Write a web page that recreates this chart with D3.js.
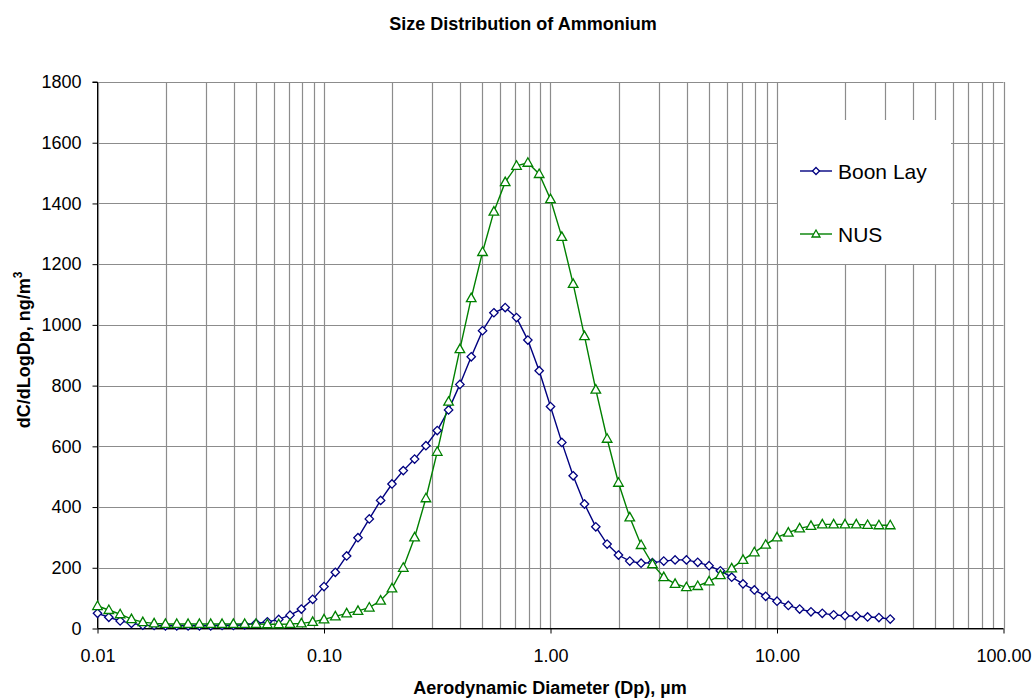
<!DOCTYPE html>
<html><head><meta charset="utf-8">
<script src="https://cdn.jsdelivr.net/npm/d3@7"></script>
<style>body{margin:0;background:#fff;} text{font-family:"Liberation Sans",Arial,sans-serif;}</style>
</head><body><svg id="c" width="1034" height="699"></svg>
<script>
const logStart = -2, logStep = 0.05;
const boonLay = [50,37,25,17,11,10,9,9,9,9,9,10,10,12,17,22,30,44,64,96,138,185,239,299,361,422,476,520,558,602,652,720,804,895,981,1040,1057,1024,950,849,731,613,503,410,335,278,242,222,215,217,222,226,226,218,207,190,169,147,127,106,90,76,64,55,50,45,42,41,38,36,31];
const nus = [74,61,47,31,21,17,15,15,15,15,15,15,15,15,15,14,14,15,17,22,30,40,50,58,69,92,132,200,300,429,582,747,920,1088,1240,1373,1470,1524,1534,1497,1414,1290,1135,963,787,625,480,366,275,212,169,147,136,140,155,176,198,226,251,276,300,316,330,338,343,343,343,343,341,340,340];
const diam = boonLay.map((_, i) => Math.pow(10, logStart + i * logStep));
const xTicks = [0.01, 0.1, 1, 10, 100];
const xTickLabels = ["0.01", "0.10", "1.00", "10.00", "100.00"];
const yTicks = [0,200,400,600,800,1000,1200,1400,1600,1800];
const seriesNames = ["Boon Lay", "NUS"];

const svg = d3.select("#c");
const L = 97.5, R = 1003.5, T = 82, B = 628.5;
const x = d3.scaleLog().domain([0.01, 100]).range([L, R]);
const y = d3.scaleLinear().domain([0, 1800]).range([B, T]);

// vertical grid at every minor log tick
const minor = [];
for (let e = -2; e <= 1; e++) for (let m = 1; m <= 9; m++) minor.push(m * Math.pow(10, e));
minor.push(100);
svg.append("g").selectAll("line").data(minor).join("line")
  .attr("x1", d => Math.round(x(d)) + 0.5).attr("x2", d => Math.round(x(d)) + 0.5)
  .attr("y1", T).attr("y2", B).attr("stroke", "#8c8c8c").attr("stroke-width", 1.2);
svg.append("g").selectAll("line").data(yTicks).join("line")
  .attr("x1", L).attr("x2", R)
  .attr("y1", d => Math.round(y(d)) + 0.5).attr("y2", d => Math.round(y(d)) + 0.5)
  .attr("stroke", "#8c8c8c").attr("stroke-width", 1.2);

// legend background (covers grid)
svg.append("rect").attr("x", 778).attr("y", 120).attr("width", 173).attr("height", 144).attr("fill", "#fff");

// axes
const yAxis = d3.axisLeft(y).tickValues(yTicks).tickSize(5).tickPadding(11).tickFormat(d3.format("d"));
const gy = svg.append("g").attr("transform", `translate(${L},0)`).call(yAxis);
gy.selectAll("text").attr("font-size", 18).attr("fill", "#000");
gy.selectAll("line,path").attr("stroke", "#000");
const xAxis = d3.axisBottom(x).tickValues(xTicks).tickSize(5).tickPadding(16).tickFormat((d, i) => xTickLabels[i]);
const gx = svg.append("g").attr("transform", `translate(0,${B})`).call(xAxis);
gx.selectAll("text").attr("font-size", 18).attr("fill", "#000");
gx.selectAll("line,path").attr("stroke", "#000");
gy.select(".domain").attr("d", `M-5,${T}H0V${B}`);
gx.select(".domain").attr("d", `M${L},0H${R}`);

// series
const line = d3.line().x((d, i) => x(diam[i])).y(d => y(d));
const colors = ["#000080", "#008000"];
const data = [boonLay, nus];
const diamondPath = "M0,-4.2L4.2,0L0,4.2L-4.2,0Z";
const triPath = "M0,-5L4.8,3.5L-4.8,3.5Z";
data.forEach((s, k) => {
  svg.append("path").datum(s).attr("d", line).attr("fill", "none")
    .attr("stroke", colors[k]).attr("stroke-width", 1.4);
});
data.forEach((s, k) => {
  svg.append("g").selectAll("path").data(s).join("path")
    .attr("transform", (d, i) => `translate(${x(diam[i])},${y(d)})`)
    .attr("d", k === 0 ? diamondPath : triPath)
    .attr("fill", "#fff").attr("stroke", colors[k]).attr("stroke-width", 1.3);
});

// legend
const ly = [171, 234];
seriesNames.forEach((n, k) => {
  svg.append("line").attr("x1", 800).attr("x2", 832).attr("y1", ly[k]).attr("y2", ly[k])
    .attr("stroke", colors[k]).attr("stroke-width", 1.4);
  svg.append("path").attr("transform", `translate(816,${ly[k]})`)
    .attr("d", k === 0 ? "M0,-3.5L3.5,0L0,3.5L-3.5,0Z" : "M0,-4L4,3L-4,3Z")
    .attr("fill", "#fff").attr("stroke", colors[k]).attr("stroke-width", 1.3);
  svg.append("text").attr("x", 838).attr("y", ly[k] + 8).attr("font-size", 21).attr("fill", "#000").text(n);
});

// titles
svg.append("text").attr("x", 523).attr("y", 30).attr("text-anchor", "middle")
  .attr("font-size", 18).attr("font-weight", "bold").text("Size Distribution of Ammonium");
svg.append("text").attr("x", 550).attr("y", 694).attr("text-anchor", "middle")
  .attr("font-size", 18).attr("font-weight", "bold").text("Aerodynamic Diameter (Dp), µm");
const yl = svg.append("text").attr("transform", "translate(30,350) rotate(-90)").attr("text-anchor", "middle")
  .attr("font-size", 18).attr("font-weight", "bold");
yl.append("tspan").text("dC/dLogDp, ng/m");
yl.append("tspan").attr("font-size", 12).attr("dy", -8).text("3");
</script></body></html>
